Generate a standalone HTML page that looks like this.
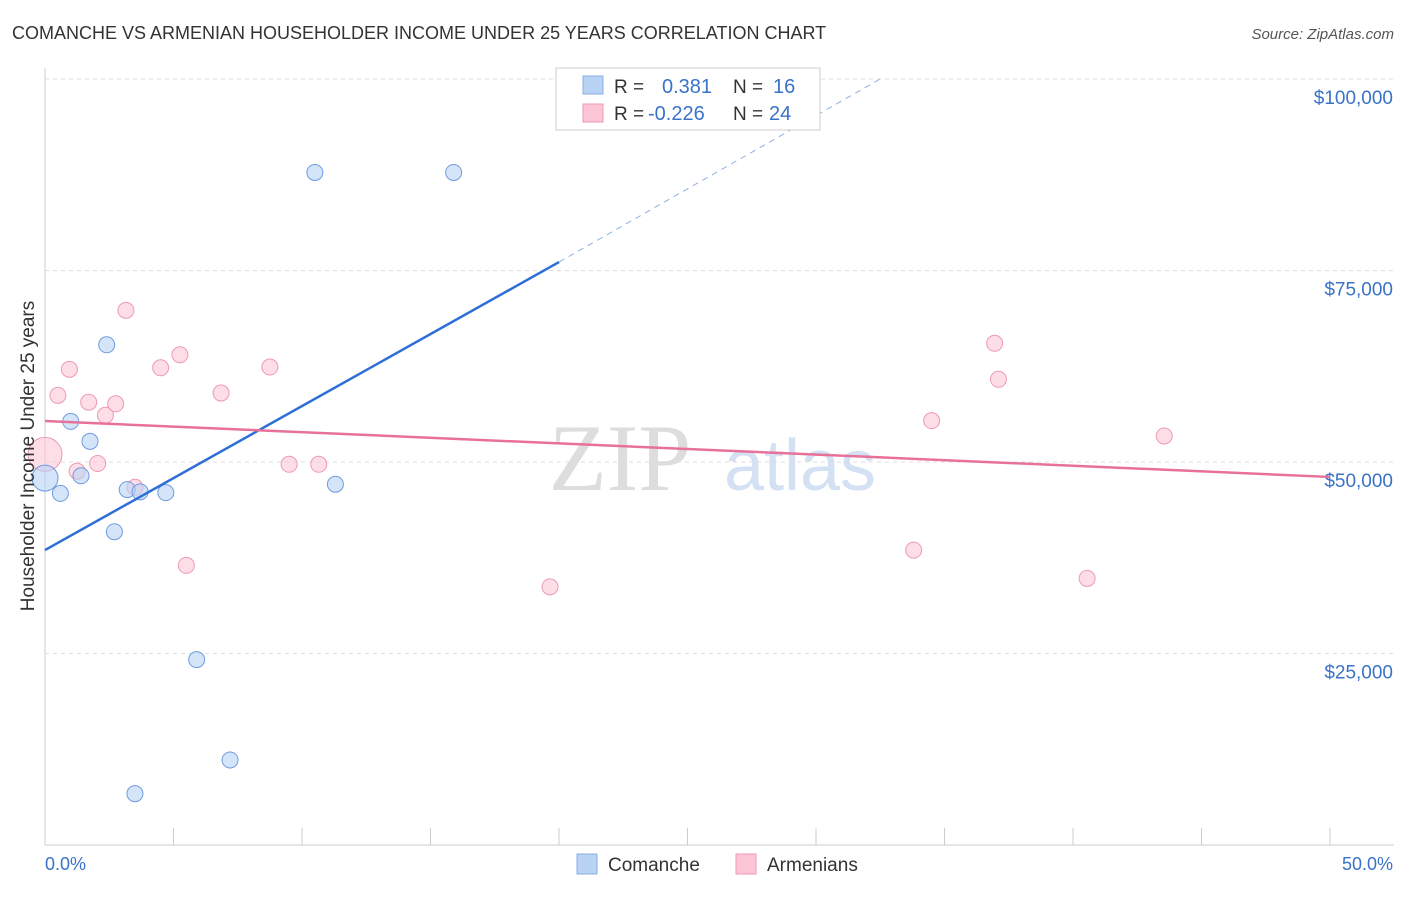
<!DOCTYPE html>
<html><head><meta charset="utf-8"><style>
body{margin:0;background:#fff;font-family:"Liberation Sans",sans-serif;}
</style></head><body>
<svg id="c" width="1406" height="892" xmlns="http://www.w3.org/2000/svg">
<text x="12" y="39" font-size="18" fill="#333">COMANCHE VS ARMENIAN HOUSEHOLDER INCOME UNDER 25 YEARS CORRELATION CHART</text>
<text x="1394" y="39" font-size="15" fill="#555" font-style="italic" text-anchor="end">Source: ZipAtlas.com</text>
<text x="620" y="490" font-size="95" fill="#ddd" font-family="Liberation Serif,serif" text-anchor="middle">ZIP</text>
<text x="800" y="490" font-size="72" fill="#d4e0f3" text-anchor="middle">atlas</text>
<g id="grid"></g>
<g id="marks"></g>
<text transform="translate(34,456) rotate(-90)" font-size="19" fill="#333" text-anchor="middle">Householder Income Under 25 years</text>
<text x="45" y="870" font-size="18" fill="#3a72c8">0.0%</text>
<text x="1393" y="870" font-size="18" fill="#3a72c8" text-anchor="end">50.0%</text>
<g>
<rect x="556" y="68" width="264" height="62" fill="#fff" stroke="#ccc"/>
<rect x="583" y="76" width="20" height="18" fill="#b9d3f5" stroke="#89aee6"/>
<rect x="583" y="104" width="20" height="18" fill="#fcc6d6" stroke="#ee9ab4"/>
<text x="614" y="93" font-size="19" fill="#333">R = </text><text x="662" y="93" font-size="20" fill="#3a72c8">0.381</text>
<text x="733" y="93" font-size="19" fill="#333">N = </text><text x="773" y="93" font-size="20" fill="#3a72c8">16</text>
<text x="614" y="120" font-size="19" fill="#333">R = </text><text x="648" y="120" font-size="20" fill="#3a72c8">-0.226</text>
<text x="733" y="120" font-size="19" fill="#333">N = </text><text x="769" y="120" font-size="20" fill="#3a72c8">24</text>
</g>
<g>
<rect x="577" y="854" width="20" height="20" fill="#b9d3f5" stroke="#89aee6"/>
<text x="608" y="871" font-size="19" fill="#333">Comanche</text>
<rect x="736" y="854" width="20" height="20" fill="#fcc6d6" stroke="#ee9ab4"/>
<text x="767" y="871" font-size="19" fill="#333">Armenians</text>
</g>
</svg>
<script>
const yTicks=[25000,50000,75000,100000];
const yTickLabels=["$25,000","$50,000","$75,000","$100,000"];
const xTicks=[0,5,10,15,20,25,30,35,40,45,50];
const comX=[0,0.6,1.0,1.4,1.75,2.4,2.7,3.2,3.7,4.7,5.9,7.2,3.5,10.5,15.9,11.3];
const comY=[47900,45900,55300,48200,52700,65300,40900,46400,46100,46000,24200,11100,6700,87800,87800,47100];
const armX=[0,0.5,0.95,1.25,1.7,2.05,2.35,2.75,3.15,3.5,4.5,5.25,5.5,6.85,8.75,9.5,10.65,19.65,33.8,34.5,36.95,37.1,40.55,43.55];
const armY=[51000,58700,62100,48800,57800,49800,56100,57600,69800,46700,62300,64000,36500,59000,62400,49700,49700,33700,38500,55400,65500,60800,34800,53400];
const comLine=[0,38500,20,76100,32.5,100000];
const armLine=[0,55350,50,48050];
const NS="http://www.w3.org/2000/svg";
const X=v=>45+v*25.7, Y=v=>845-v*191.5/25000;
function el(t,a,p){const e=document.createElementNS(NS,t);for(const k in a)e.setAttribute(k,a[k]);p.appendChild(e);return e;}
const g=document.getElementById('grid'),m=document.getElementById('marks');
let ax=el('line',{x1:45,y1:68,x2:45,y2:845,stroke:'#ccc'},g);


let bx=el('line',{x1:45,y1:845,x2:1394,y2:845,stroke:'#ccc'},g);


yTicks.forEach((v,i)=>{
 let l=el('line',{x1:45,x2:1394,y1:Y(v),y2:Y(v),stroke:'#ddd','stroke-dasharray':'4,4'},g);
 
 
 let t=el('text',{x:1393,y:Y(v)+25,'font-size':19,fill:'#3a72c8','text-anchor':'end'},g);t.textContent=yTickLabels[i];
 
 
});
xTicks.forEach(v=>{
 let l=el('line',{x1:X(v),x2:X(v),y1:828,y2:845,stroke:'#ccc'},g);
 
 
});
armX.forEach((x,i)=>{
 let c=el('circle',{cx:X(x),cy:Y(armY[i]),r:i==0?17:8,fill:'#fcc6d6','fill-opacity':0.6,stroke:'#ee9ab4'},m);
 
 
});
comX.forEach((x,i)=>{
 let c=el('circle',{cx:X(x),cy:Y(comY[i]),r:i==0?13:8,fill:'#b9d3f5','fill-opacity':0.6,stroke:'#6e9be0'},m);
 
 
});
let l1=el('line',{x1:X(comLine[0]),y1:Y(comLine[1]),x2:X(comLine[2]),y2:Y(comLine[3]),stroke:'#2d6fd6','stroke-width':2.5},m);


let l2=el('line',{x1:X(comLine[2]),y1:Y(comLine[3]),x2:X(comLine[4]),y2:Y(comLine[5]),stroke:'#8fb0e0','stroke-width':1,'stroke-dasharray':'6,5'},m);


let l3=el('line',{x1:X(armLine[0]),y1:Y(armLine[1]),x2:X(armLine[2]),y2:Y(armLine[3]),stroke:'#e8719a','stroke-width':2.5},m);


</script>
</body></html>
